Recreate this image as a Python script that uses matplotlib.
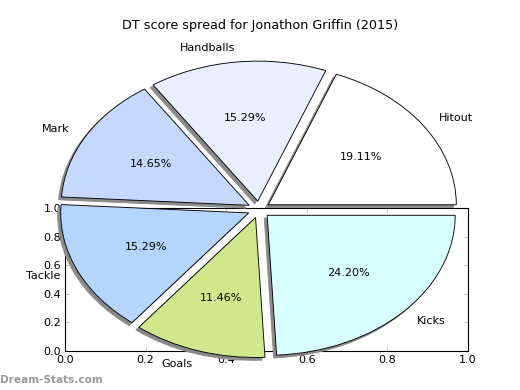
import numpy as np
import matplotlib
matplotlib.use('Agg')
import matplotlib.pyplot as plt

# -------------------------------
# Data
# -------------------------------
labels = ['Hitout', 'Handballs', 'Mark', 'Tackle', 'Goals', 'Kicks']
shares = [19.11, 15.29, 14.65, 15.29, 11.46, 24.20]
colors = ['#ffffff', '#e8f0ff', '#c5d8ff', '#b5d5ff', '#d0e88c', '#d8ffff']
title = 'DT score spread for Jonathon Griffin (2015)'
ticks = [0.0, 0.2, 0.4, 0.6, 0.8, 1.0]

fig = plt.figure(figsize=(6.5, 4.875), dpi=80)

# -------------------------------
# Stray empty axes behind the pie
# -------------------------------
ax0 = fig.add_axes([0.125, 0.1, 0.775, 0.3667])
ax0.set_xlim(0, 1)
ax0.set_ylim(0, 1)
ax0.set_xticks(ticks)
ax0.set_yticks(ticks)
ax0.set_xticklabels([f'{t:.1f}' for t in ticks])
ax0.set_yticklabels([f'{t:.1f}' for t in ticks])
ax0.tick_params(direction='in', top=True, right=True, labelsize=10, length=4,
                color='#bbbbbb')
for s in ax0.spines.values():
    s.set_linewidth(1.0)

# -------------------------------
# Pie (stretched, not equal aspect)
# -------------------------------
ax = fig.add_axes([0, 0, 1, 1])
ax.patch.set_alpha(0)
wedges, texts, autotexts = ax.pie(
    shares, labels=labels, colors=colors, explode=[0.06] * len(shares),
    autopct='%1.2f%%', shadow={'ox': -0.014, 'oy': -0.018, 'color': '#8a8a8a', 'alpha': 1.0},
    startangle=0, counterclock=True,
    wedgeprops={'edgecolor': 'black', 'linewidth': 0.8},
    textprops={'fontsize': 10})
ax.set_aspect('auto')
ax.set_xlim(-259 / 188, (520 - 259) / 188)
ax.set_ylim(-(390 - 209.5) / 140, 209.5 / 140)
ax.axis('off')

fig.text(0.5, 0.935, title, ha='center', va='center', fontsize=11.5)
fig.text(0.0, 0.025, 'Dream-Stats.com', ha='left', va='center', fontsize=9.5,
         color='#999999', fontweight='bold')

fig.savefig('out.png', dpi=80)
